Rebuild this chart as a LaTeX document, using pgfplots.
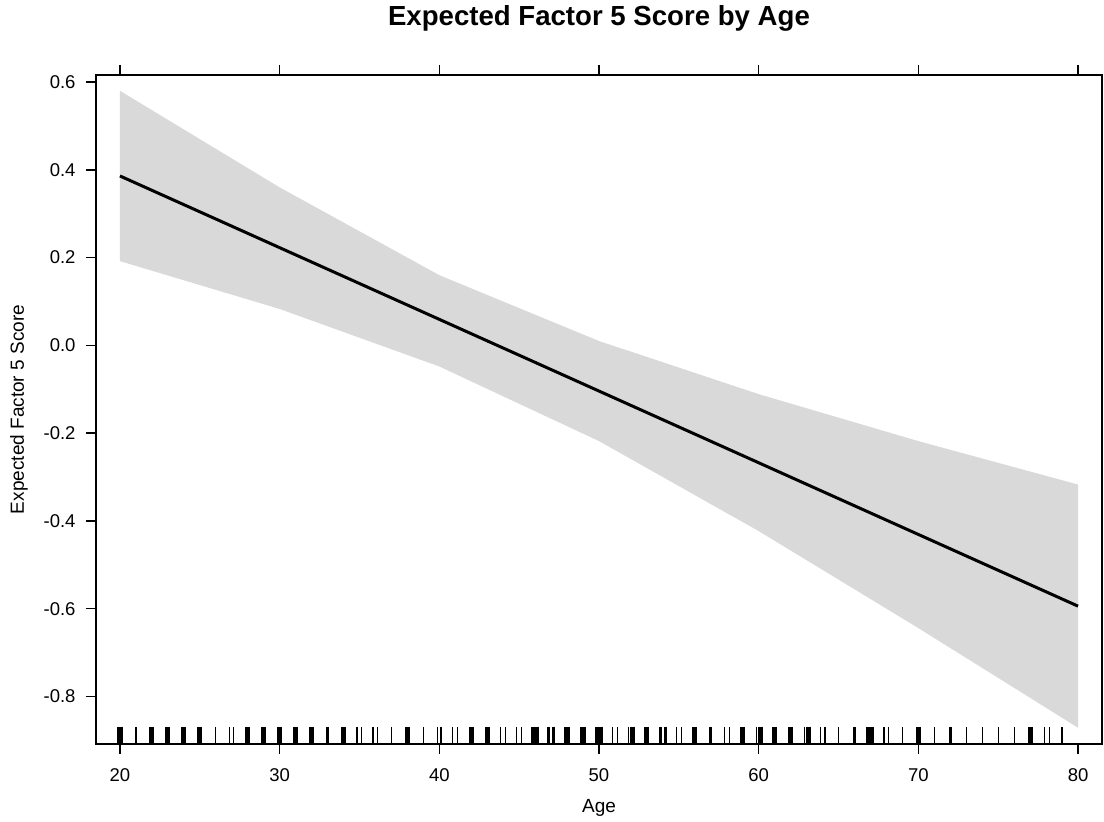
\documentclass[border=0pt]{standalone}
\usepackage{fontspec}
\setmainfont{Liberation Sans}
\usepackage{pgfplots}
\pgfplotsset{compat=1.18}
\definecolor{band}{RGB}{217,217,217}
\begin{document}
\begin{tikzpicture}
\useasboundingbox (-48pt,-39pt) rectangle (504pt,372pt);
\begin{axis}[
  at={(0pt,0pt)}, anchor=south west,
  scale only axis, width=503pt, height=334.5pt,
  xmin=18.5, xmax=81.5, ymin=-0.908, ymax=0.616,
  axis line style={line width=0.7pt},
  tick align=outside, xtick pos=both, ytick pos=left,
  major tick length=5pt, tick style={line width=0.7pt, black},
  xtick={20,30,40,50,60,70,80},
  ytick={-0.8,-0.6,-0.4,-0.2,0,0.2,0.4,0.6},
  yticklabels={-0.8,-0.6,-0.4,-0.2,0.0,0.2,0.4,0.6},
  /pgf/number format/assume math mode=true,
  tick label style={font=\fontsize{9.25}{11}\selectfont},
  xticklabel style={yshift=-4pt},
  yticklabel style={xshift=-1.7pt},
  label style={font=\fontsize{9.5}{11}\selectfont},
  xlabel={Age}, ylabel={Expected Factor 5 Score},
  xlabel style={at={(axis description cs:0.5,-0.0957)}, anchor=center},
  ylabel style={at={(axis description cs:-0.0765,0.5)}, anchor=center},
  title={Expected Factor 5 Score by Age},
  title style={at={(axis description cs:0.5,1.0852)}, anchor=center, yshift=-6pt, font=\fontsize{13.8}{15}\selectfont\bfseries},
  clip=false,
]
% confidence band
\addplot[fill=band, draw=none] coordinates {
  (20,0.580) (30,0.360) (40,0.160) (50,0.010) (60,-0.111) (70,-0.218) (80,-0.317)
  (80,-0.871) (70,-0.644) (60,-0.423) (50,-0.218) (40,-0.048) (30,0.083) (20,0.192) (20,0.580)
};
% fitted line
\addplot[black, line width=1.5pt] coordinates {(20,0.386) (80,-0.594)};
% rug: thin
\addplot[only marks, mark=|, mark size=4.25pt, mark options={line width=0.6pt, black}] coordinates {
  (21,-0.8886) (26,-0.8886) (37,-0.8886) (39,-0.8886) (65,-0.8886) (69,-0.8886)
  (71,-0.8886) (73,-0.8886) (74,-0.8886) (75,-0.8886) (76,-0.8886) (79,-0.8886)
  (26.88,-0.8886) (27.12,-0.8886) (34.85,-0.8886) (35.15,-0.8886) (35.85,-0.8886) (36.15,-0.8886)
  (39.9,-0.8886) (40.1,-0.8886) (40.85,-0.8886) (41.15,-0.8886) (43.85,-0.8886) (44.15,-0.8886)
  (44.85,-0.8886) (45.15,-0.8886) (50.85,-0.8886) (51.15,-0.8886) (54.85,-0.8886) (55.15,-0.8886)
  (57.85,-0.8886) (58.15,-0.8886) (63.85,-0.8886) (64.15,-0.8886) (67.85,-0.8886) (68.15,-0.8886)
  (77.9,-0.8886) (78.2,-0.8886) (51.85,-0.8886) (59.85,-0.8886) (62.85,-0.8886)
};
% rug: medium
\addplot[only marks, mark=|, mark size=4.25pt, mark options={line width=1.5pt, black}] coordinates {
  (33,-0.8886) (57,-0.8886) (66,-0.8886) (72,-0.8886)
  (46.85,-0.8886) (47.15,-0.8886) (53.85,-0.8886) (54.15,-0.8886)
};
% rug: thick
\addplot[only marks, mark=|, mark size=4.25pt, mark options={line width=2.6pt, black}] coordinates {
  (20,-0.8886) (22,-0.8886) (23,-0.8886) (24,-0.8886) (25,-0.8886) (28,-0.8886) (29,-0.8886)
  (30,-0.8886) (31,-0.8886) (32,-0.8886) (34,-0.8886) (38,-0.8886) (42,-0.8886) (43,-0.8886)
  (48,-0.8886) (49,-0.8886) (53,-0.8886) (56,-0.8886) (59,-0.8886) (61,-0.8886) (62,-0.8886)
  (70,-0.8886) (77,-0.8886) (52.12,-0.8886) (60.12,-0.8886) (63.12,-0.8886)
};
% rug: wide
\addplot[only marks, mark=|, mark size=4.25pt, mark options={line width=4pt, black}] coordinates {
  (46,-0.8886) (50,-0.8886) (67,-0.8886)
};
\end{axis}
\end{tikzpicture}
\end{document}
